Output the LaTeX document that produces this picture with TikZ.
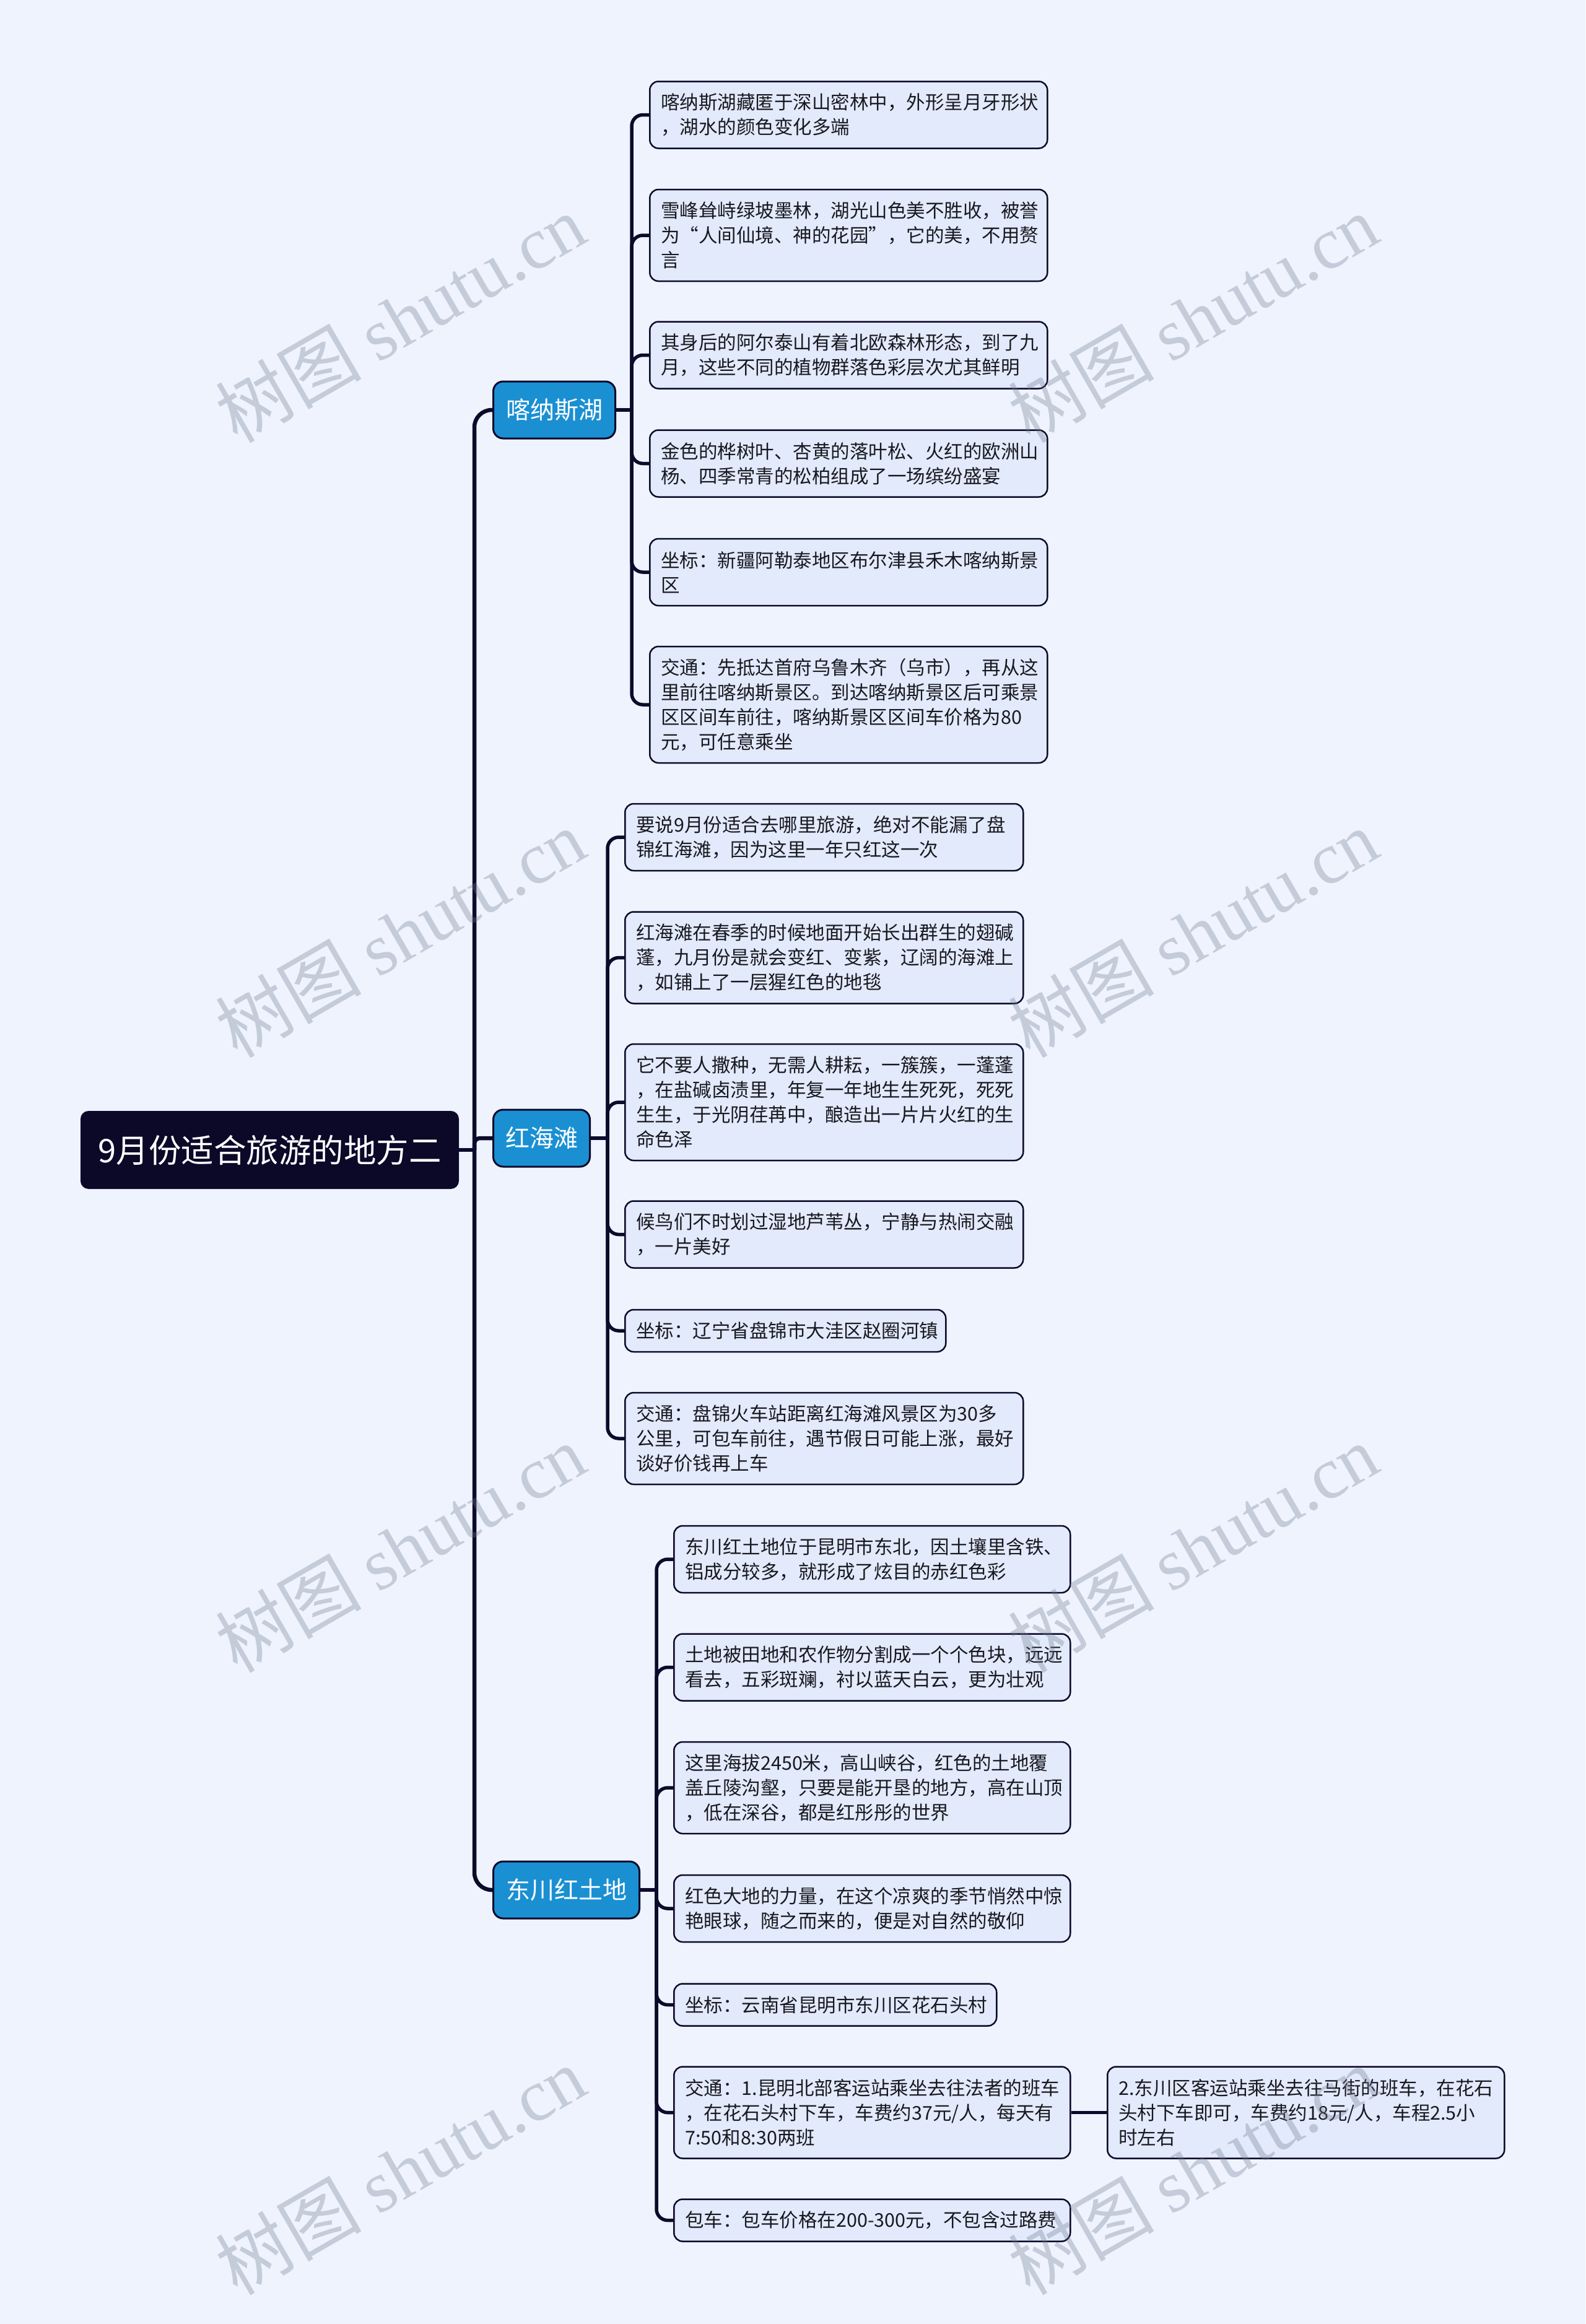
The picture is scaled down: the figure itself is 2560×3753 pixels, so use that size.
\documentclass[tikz,border=0pt]{standalone}
\usepackage{fontspec}
\setmainfont{Noto Sans CJK SC}
\newfontfamily\wmlatin{Liberation Serif}
\definecolor{bgc}{RGB}{238,243,254}
\definecolor{leaffill}{RGB}{226,234,251}
\definecolor{linec}{RGB}{13,10,43}
\definecolor{branchc}{RGB}{26,144,211}
\definecolor{rootc}{RGB}{12,8,40}
\definecolor{textc}{RGB}{24,24,32}
\definecolor{wmc}{RGB}{110,120,140}
\pgfdeclarelayer{back}
\pgfdeclarelayer{links}
\pgfsetlayers{back,links,main}
\tikzset{
  leafbox/.style={draw=linec, line width=2.5pt, fill=leaffill, rounded corners=14pt,
    align=left, anchor=west, inner xsep=18pt, inner ysep=4pt,
    font=\fontsize{30.5}{40}\selectfont, text=textc},
  lines1/.style={minimum height=68pt},
  lines2/.style={minimum height=108pt},
  lines3/.style={minimum height=148pt},
  lines4/.style={minimum height=188pt},
  branchbox/.style={draw=linec, line width=3pt, fill=branchc, rounded corners=16pt,
    anchor=west, align=center, inner sep=0pt, minimum height=92pt,
    font=\fontsize{39}{47}\selectfont, text=white},
  rootbox/.style={draw=rootc, line width=2pt, fill=rootc, rounded corners=12pt,
    align=center, inner sep=0pt, minimum width=609pt, minimum height=124pt,
    font=\fontsize{52.5}{60}\selectfont, text=white},
  trunk/.style={draw=linec, line width=6.5pt},
  conn/.style={draw=linec, line width=5.5pt},
  wm/.style={rotate=30, text=wmc, text opacity=0.32, inner sep=0pt,
    font=\fontsize{118}{118}\selectfont}
}
\begin{document}
\begin{tikzpicture}[x=1pt,y=-1pt]
\useasboundingbox (0,0) rectangle (2560,3753);
\begin{pgfonlayer}{back}
\fill[bgc] (0,0) rectangle (2560,3753);
\end{pgfonlayer}

% root and branches
\node[rootbox] (root) at (435.5,1857) {9月份适合旅游的地方二};
\node[branchbox, minimum width=197pt] (b1) at (795,662) {喀纳斯湖};
\node[branchbox, minimum width=156pt] (b2) at (795,1838) {红海滩};
\node[branchbox, minimum width=236pt] (b3) at (795,3052) {东川红土地};

% group 1
\node[leafbox, lines2, text width=606pt] (a1) at (1048,185.5) {喀纳斯湖藏匿于深山密林中，外形呈月牙形状\\，湖水的颜色变化多端};
\node[leafbox, lines3, text width=606pt] (a2) at (1048,380) {雪峰耸峙绿坡墨林，湖光山色美不胜收，被誉\\为“人间仙境、神的花园”，它的美，不用赘\\言};
\node[leafbox, lines2, text width=606pt] (a3) at (1048,573.5) {其身后的阿尔泰山有着北欧森林形态，到了九\\月，这些不同的植物群落色彩层次尤其鲜明};
\node[leafbox, lines2, text width=606pt] (a4) at (1048,748.5) {金色的桦树叶、杏黄的落叶松、火红的欧洲山\\杨、四季常青的松柏组成了一场缤纷盛宴};
\node[leafbox, lines2, text width=606pt] (a5) at (1048,924) {坐标：新疆阿勒泰地区布尔津县禾木喀纳斯景\\区};
\node[leafbox, lines4, text width=606pt] (a6) at (1048,1138) {交通：先抵达首府乌鲁木齐（乌市），再从这\\里前往喀纳斯景区。到达喀纳斯景区后可乘景\\区区间车前往，喀纳斯景区区间车价格为80\\元，可任意乘坐};

% group 2
\node[leafbox, lines2, text width=607pt] (h1) at (1008,1352) {要说9月份适合去哪里旅游，绝对不能漏了盘\\锦红海滩，因为这里一年只红这一次};
\node[leafbox, lines3, text width=607pt] (h2) at (1008,1546.5) {红海滩在春季的时候地面开始长出群生的翅碱\\蓬，九月份是就会变红、变紫，辽阔的海滩上\\，如铺上了一层猩红色的地毯};
\node[leafbox, lines4, text width=607pt] (h3) at (1008,1780) {它不要人撒种，无需人耕耘，一簇簇，一蓬蓬\\，在盐碱卤渍里，年复一年地生生死死，死死\\生生，于光阴荏苒中，酿造出一片片火红的生\\命色泽};
\node[leafbox, lines2, text width=607pt] (h4) at (1008,1993.5) {候鸟们不时划过湿地芦苇丛，宁静与热闹交融\\，一片美好};
\node[leafbox, lines1, text width=482pt] (h5) at (1008,2149) {坐标：辽宁省盘锦市大洼区赵圈河镇};
\node[leafbox, lines3, text width=607pt] (h6) at (1008,2323) {交通：盘锦火车站距离红海滩风景区为30多\\公里，可包车前往，遇节假日可能上涨，最好\\谈好价钱再上车};

% group 3
\node[leafbox, lines2, text width=604pt] (d1) at (1087,2518) {东川红土地位于昆明市东北，因土壤里含铁、\\铝成分较多，就形成了炫目的赤红色彩};
\node[leafbox, lines2, text width=604pt] (d2) at (1087,2692.5) {土地被田地和农作物分割成一个个色块，远远\\看去，五彩斑斓，衬以蓝天白云，更为壮观};
\node[leafbox, lines3, text width=604pt] (d3) at (1087,2887) {这里海拔2450米，高山峡谷，红色的土地覆\\盖丘陵沟壑，只要是能开垦的地方，高在山顶\\，低在深谷，都是红彤彤的世界};
\node[leafbox, lines2, text width=604pt] (d4) at (1087,3082) {红色大地的力量，在这个凉爽的季节悄然中惊\\艳眼球，随之而来的，便是对自然的敬仰};
\node[leafbox, lines1, text width=485pt] (d5) at (1087,3237.5) {坐标：云南省昆明市东川区花石头村};
\node[leafbox, lines3, text width=604pt] (d6) at (1087,3411.5) {交通：1.昆明北部客运站乘坐去往法者的班车\\，在花石头村下车，车费约37元/人，每天有\\7:50和8:30两班};
\node[leafbox, lines3, text width=605pt] (d6s) at (1787,3411.5) {2.东川区客运站乘坐去往马街的班车，在花石\\头村下车即可，车费约18元/人，车程2.5小\\时左右};
\node[leafbox, lines1, text width=604pt] (d7) at (1087,3585.5) {包车：包车价格在200-300元，不包含过路费};

% junctions
\coordinate (J) at (766,1857);
\coordinate (K1) at (1020,662);
\coordinate (K2) at (981,1838);
\coordinate (K3) at (1060,3052);

\begin{pgfonlayer}{links}
\draw[trunk] (root.east) -- (J);
\draw[trunk, rounded corners=28pt] (J) |- (b1.west);
\draw[trunk, rounded corners=9pt] (J) |- (b2.west);
\draw[trunk, rounded corners=28pt] (J) |- (b3.west);
\draw[conn] (b1.east) -- (K1);
\draw[conn] (b2.east) -- (K2);
\draw[conn] (b3.east) -- (K3);
\foreach \n in {a1,a2,a3,a4,a5,a6}{\draw[conn, rounded corners=18pt] (K1) |- (\n.west);}
\foreach \n in {h1,h2,h3,h4,h5,h6}{\draw[conn, rounded corners=18pt] (K2) |- (\n.west);}
\foreach \n in {d1,d2,d3,d4,d5,d6,d7}{\draw[conn, rounded corners=18pt] (K3) |- (\n.west);}
\draw[conn] (d6.east) -- (d6s.west);
\end{pgfonlayer}

% watermarks
\node[wm] (w1) at (646,514) {树图 {\wmlatin shutu.cn}};
\node[wm] (w2) at (1926,514) {树图 {\wmlatin shutu.cn}};
\node[wm] (w3) at (646,1507) {树图 {\wmlatin shutu.cn}};
\node[wm] (w4) at (1926,1507) {树图 {\wmlatin shutu.cn}};
\node[wm] (w5) at (646,2500) {树图 {\wmlatin shutu.cn}};
\node[wm] (w6) at (1926,2500) {树图 {\wmlatin shutu.cn}};
\node[wm] (w7) at (646,3505) {树图 {\wmlatin shutu.cn}};
\node[wm] (w8) at (1926,3505) {树图 {\wmlatin shutu.cn}};
\end{tikzpicture}
\end{document}
